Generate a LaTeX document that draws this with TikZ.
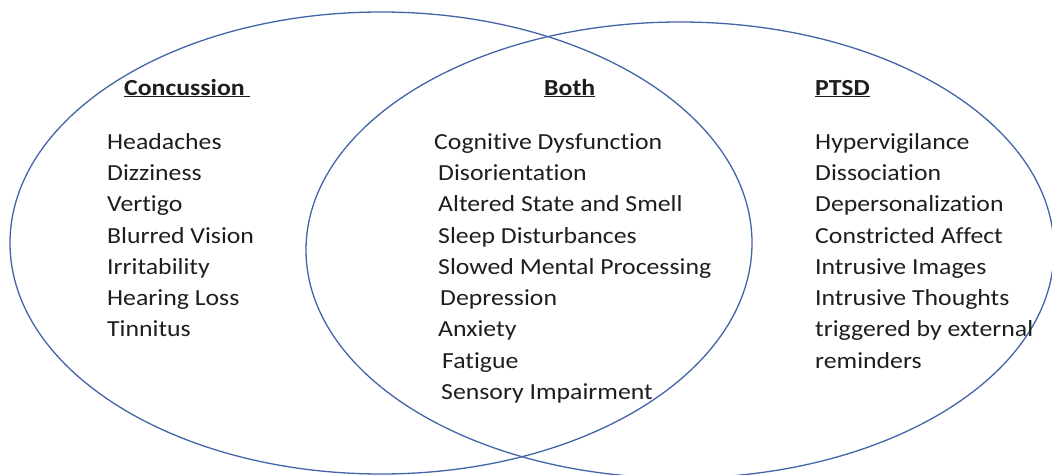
\documentclass[tikz,border=0pt]{standalone}
\usepackage{fontspec}
\setmainfont{Carlito}[FakeStretch=1.12,Ligatures={NoCommon}]
\definecolor{vennblue}{RGB}{68,100,168}
\definecolor{txt}{RGB}{30,30,30}
\begin{document}
\begin{tikzpicture}[x=1pt,y=-1pt,
  venn/.style={draw=vennblue,line width=1.3pt},
  item/.style={anchor=base west,inner sep=0pt,text=txt,font=\fontsize{23}{27}\selectfont},
  head/.style={item,font=\fontsize{23}{27}\selectfont\bfseries}]
\useasboundingbox (0,0) rectangle (1052,474);
\fill[white] (0,0) rectangle (1052,474);
\draw[venn] (381,243) ellipse [x radius=371, y radius=231];
\draw[venn] (680,250) ellipse [x radius=374, y radius=228];
% headings
\node[head] (hc) at (124,95) {\underline{Concussion\ }};
\node[head] (hb) at (544,95) {\underline{Both}};
\node[head] (hp) at (815,95) {\underline{PTSD}};
% Concussion column
\node[item] (c1) at (107,149) {Headaches};
\node[item] (c2) at (107,180.3) {Dizziness};
\node[item] (c3) at (107,211.6) {Vertigo};
\node[item] (c4) at (107,243) {Blurred Vision};
\node[item] (c5) at (107,274.2) {Irritability};
\node[item] (c6) at (107,305.5) {Hearing Loss};
\node[item] (c7) at (107,336.8) {Tinnitus};
% Both column
\node[item] (b1) at (434,149) {Cognitive Dysfunction};
\node[item] (b2) at (438,180.3) {Disorientation};
\node[item] (b3) at (438,211.6) {Altered State and Smell};
\node[item] (b4) at (438,243) {Sleep Disturbances};
\node[item] (b5) at (438,274.2) {Slowed Mental Processing};
\node[item] (b6) at (440,305.5) {Depression};
\node[item] (b7) at (438,336.8) {Anxiety};
\node[item] (b8) at (442,368) {Fatigue};
\node[item] (b9) at (441,399.4) {Sensory Impairment};
% PTSD column
\node[item] (p1) at (815,149) {Hypervigilance};
\node[item] (p2) at (815,180.3) {Dissociation};
\node[item] (p3) at (815,211.6) {Depersonalization};
\node[item] (p4) at (815,243) {Constricted Affect};
\node[item] (p5) at (815,274.2) {Intrusive Images};
\node[item] (p6) at (815,305.5) {Intrusive Thoughts};
\node[item] (p7) at (815,336.8) {triggered by external};
\node[item] (p8) at (815,368) {reminders};
\end{tikzpicture}
\end{document}
